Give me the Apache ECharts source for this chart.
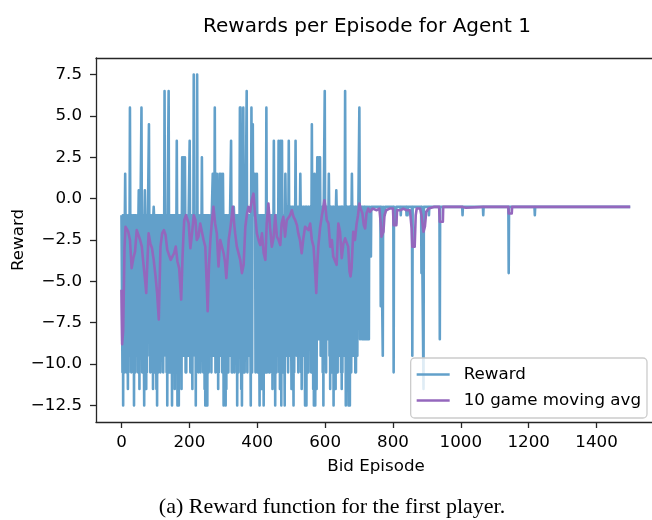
<!DOCTYPE html>
<html>
<head>
<meta charset="utf-8">
<script src="https://cdn.jsdelivr.net/npm/echarts@6/dist/echarts.min.js"></script>
<style>
  html, body { margin: 0; padding: 0; background: #fff; }
  #chart { width: 652px; height: 520px; }
</style>
</head>
<body>
<div id="chart"></div>
<script>
// Episodes 0..739: even episodes sit on the baseline, odd ones take these values
const denseRewards = [
  -1, -10.5, -12.5, -9.5, -10.5, 1.5, -9.5, -10.5, -1, -11.5,
  -10.5, -8.5, 5.5, -9.5, -10.5, -1, -7.5, -10.5, -12.5, -9.5,
  -10.5, -1, -9.5, -9.5, -10.5, 0.5, -11.5, -9.5, -1, 5.5,
  -10.5, -10.5, -1, -12.5, 0.5, -9.5, -11.5, -10.5, -8.5, -1,
  4.5, -9.5, -10.5, -1, -9.5, -10.5, -11.5, -0.5, -9.5, -10.5,
  -1, -11.5, -12.5, -10.5, -10.5, -9.5, -1, -10.5, -8.5, -9.5,
  -1, -10.5, -9.5, 6.5, -1, -9.5, -10.5, -12.5, -1, 6.5,
  -10.5, -10.5, -9.5, -8.5, -12.5, -1, -9.5, -10.5, -11.5, -1,
  -10.5, 3.5, -12.5, -9.5, -12.5, -1, -9.5, -10.5, -11.5, 2.5,
  -9.5, 2.5, -9.5, 2.5, -10.5, -10.5, -1, -8.5, -9.5, -1,
  3.5, -10.5, -10.5, -1, -11.5, -9.5, 7.5, -1, -9.5, -12.5,
  -10.5, 7.5, -9.5, -10.5, -1, -8.5, -10.5, -9.5, 2.5, -1,
  -10.5, -9.5, -11.5, -12.5, -12.5, -9.5, -12.5, -10.5, -10.5, -1,
  -9.5, -8.5, -10.5, -1, 1.5, -9.5, 1.5, 5.5, -10.5, -9.5,
  1.5, -10.5, -11.5, -10.5, 1.5, -9.5, 1.5, -9.5, -10.5, 1.5,
  -12.5, -9.5, -10.5, -12.5, -11.5, -1, -8.5, -10.5, -9.5, -9.5,
  -1, 3.5, -10.5, -10.5, -9.5, -0.5, -10.5, -9.5, -1, -8.5,
  -12.5, -10.5, -10.5, -9.5, 5.5, 5.5, -11.5, -12.5, -9.5, 5.5,
  -10.5, -10.5, -9.5, -1, 6.5, -10.5, -8.5, -9.5, -9.5, -1,
  -12.5, 5.5, -10.5, 4.5, 1.5, 0.5, 1.5, -10.5, -9.5, 1.5,
  -10.5, -9.5, -1, -12.5, -10.5, -9.5, -11.5, -10.5, -8.5, -12.5,
  -9.5, -9.5, -10.5, 5.5, -10.5, -1, -9.5, -10.5, -10.5, -1,
  -9.5, -10.5, -11.5, -9.5, 3.5, -10.5, -12.5, -1, -10.5, -9.5,
  -9.5, 3.5, -10.5, -11.5, 3.5, -12.5, 3.5, -9.5, -10.5, -1,
  -12.5, 1.5, -9.5, -9.5, -0.5, -10.5, 3.5, -9.5, -8.5, -0.5,
  -11.5, -9.5, -0.5, -12.5, -10.5, -9.5, 3.5, -7.5, -9.5, -0.5,
  -10.5, -8.5, -9.5, 1.5, -10.5, -11.5, -0.5, -6.5, -9.5, -0.5,
  -12.5, -9.5, -12.5, -0.5, -9.5, -10.5, -0.5, -7.5, -8.5, -10.5,
  4.5, -9.5, -11.5, -12.5, 1.5, -12.5, -10.5, -11.5, 2.5, 2.5,
  -8.5, 2.5, 2.5, -9.5, -0.5, -9.5, -10.5, -12.5, -0.5, 6.5,
  -9.5, -10.5, -0.5, -8.5, -8.5, 1.5, -9.5, -11.5, -9.5, -0.5,
  -10.5, -9.5, -12.5, -0.5, -9.5, -11.5, 0.5, -9.5, -10.5, -0.5,
  -9.5, -0.5, -7.5, -10.5, -11.5, -10.5, -0.5, -9.5, -8.5, 6.5,
  -12.5, -9.5, -10.5, -0.5, -12.5, -11.5, -12.5, -9.5, -10.5, 1.5,
  -9.5, -9.5, -0.5, -8.5, -10.5, -10.5, -0.5, -9.5, -7.5, -0.5,
  5.5, -8.5, -0.5, -6.5, -8.5, -0.5, -8.5, -8.5, -8.5, -0.5,
  -8.5, -0.5, -8.5, -0.5, -8.5, -0.5, -0.5, -3.5, -0.5, -0.5
];
// baseline reward: -1 early on, -0.5 from episode 484
const earlyBase = -1;
const lateBase = -0.5;
const baseSwitch = 484;

// After episode 740 the reward sits at -0.5 apart from these drops
const tailSpikes = [
  [764, -6.5], [770, -9.5], [776, -1], [802, -10.5], [809, -1.5],
  [823, -1], [840, -1], [843, -1], [857, -9.5], [884, -4.5],
  [890, -11.5], [906, -1], [938, -8.5], [1005, -1], [1066, -1],
  [1141, -4.5], [1218, -1]
];
const lastEpisode = 1499;

// 10 game moving average, [episode, value]
const movingAvg = [
  [0, -5.5], [2, -8.8], [5, -8.0], [9, -3.0], [12, -1.7], [15, -1.7], [20, -2.0], [25, -2.5],
  [30, -4.2], [35, -3.6], [40, -3.2], [45, -1.9], [50, -2.2], [55, -2.5], [60, -2.9], [65, -4.0],
  [70, -5.0], [73, -5.7], [75, -4.5], [80, -2.1], [85, -2.7], [90, -3.0], [95, -3.7], [100, -4.6],
  [105, -5.7], [110, -7.3], [115, -2.9], [120, -2.1], [125, -1.9], [130, -2.2], [135, -3.1], [140, -3.0],
  [145, -3.7], [150, -3.5], [155, -3.3], [160, -2.9], [165, -3.8], [170, -4.2], [176, -6.1], [180, -3.5],
  [183, -2.1], [185, -1.3], [190, -1.0], [195, -1.3], [198, -1.5], [203, -3.0], [208, -2.1], [213, -1.0],
  [218, -1.3], [222, -2.5], [227, -2.3], [232, -1.5], [237, -1.5], [242, -2.5], [247, -2.9], [251, -5.0],
  [254, -6.8], [258, -4.0], [262, -2.5], [266, -1.5], [271, -0.5], [276, -1.5], [281, -2.1], [286, -4.1],
  [291, -2.5], [296, -2.9], [301, -3.3], [305, -3.8], [309, -4.8], [313, -3.5], [316, -2.5], [322, -1.6],
  [328, -0.5], [332, -1.5], [335, -2.1], [340, -2.9], [345, -3.0], [350, -3.7], [355, -4.5], [360, -4.0],
  [365, -1.7], [370, -0.9], [374, -0.5], [379, -0.8], [384, -0.1], [389, 0.3], [394, -1.0], [399, -2.1],
  [404, -2.5], [409, -2.8], [414, -2.1], [419, -3.3], [424, -3.7], [428, -1.5], [433, -0.3], [438, -1.8],
  [443, -2.9], [448, -2.4], [453, -1.0], [458, -2.3], [463, -2.5], [468, -2.8], [472, -1.5], [477, -1.1],
  [482, -2.3], [487, -1.3], [492, -1.3], [497, -1.0], [502, -0.7], [507, -1.1], [512, -1.3], [517, -1.6],
  [521, -2.1], [526, -2.5], [531, -3.3], [536, -2.4], [541, -1.7], [546, -1.8], [551, -1.9], [556, -1.5],
  [561, -2.5], [566, -2.9], [571, -4.5], [574, -5.7], [577, -4.0], [580, -2.9], [585, -1.8], [590, -1.1],
  [595, -0.5], [598, -0.1], [601, -0.5], [605, -1.3], [610, -1.5], [615, -2.9], [620, -2.5], [624, -3.5],
  [629, -3.6], [634, -4.0], [639, -1.5], [644, -2.0], [649, -3.6], [654, -2.7], [659, -2.4], [664, -2.5],
  [668, -2.9], [672, -4.4], [675, -4.7], [678, -4.2], [683, -2.0], [688, -2.5], [693, -1.5], [697, -1.0],
  [701, -0.3], [705, -0.6], [710, -0.9], [714, -1.6], [718, -1.8], [722, -0.9], [727, -0.6], [732, -0.8],
  [740, -0.6], [752, -0.7], [760, -0.6], [764, -1.5], [766, -2.3], [772, -2.0], [775, -1.0], [780, -0.7],
  [790, -0.6], [800, -0.6], [802, -1.6], [810, -1.6], [812, -0.7], [823, -0.7], [830, -0.6], [840, -0.7],
  [850, -0.7], [855, -1.8], [857, -2.9], [864, -2.9], [867, -1.0], [870, -0.6], [880, -0.6], [884, -1.0],
  [890, -2.0], [894, -1.7], [898, -0.8], [905, -0.6], [920, -0.5], [936, -0.5], [938, -1.4], [947, -1.4],
  [948, -0.5], [1005, -0.5], [1006, -0.55], [1015, -0.55], [1016, -0.5], [1066, -0.5], [1067, -0.55],
  [1075, -0.5], [1140, -0.5], [1141, -0.9], [1150, -0.9], [1151, -0.5], [1218, -0.5], [1219, -0.55],
  [1227, -0.5], [1499, -0.5]
];

const xTicks = [0, 200, 400, 600, 800, 1000, 1200, 1400];
const yTicks = [-12.5, -10, -7.5, -5, -2.5, 0, 2.5, 5, 7.5];

const FONT = 'DejaVu Sans';
const INK = '#000';
const SPINE = '#262626';
const X_MIN = -75, X_MAX = 1575;

// Build the reward line: alternating baseline / recorded value, then the quiet tail
const rewardData = [];
denseRewards.forEach((v, i) => {
  const ep = i * 2;
  rewardData.push([ep, ep < baseSwitch ? earlyBase : lateBase], [ep + 1, v]);
});
rewardData.push([denseRewards.length * 2, lateBase]);
for (const [ep, v] of tailSpikes) {
  rewardData.push([ep - 1, lateBase], [ep, v], [ep + 1, lateBase]);
}
rewardData.push([lastEpisode, lateBase]);

const fmtY = v => v.toFixed(1).replace('-', '\u2212');

const tickStyle = { color: SPINE, width: 1.3 };
const labelStyle = { fontFamily: FONT, fontSize: 16.7, color: INK };

const chart = echarts.init(document.getElementById('chart'));
chart.setOption({
  animation: false,
  backgroundColor: '#fff',
  grid: { left: 96, top: 58, width: 560, height: 364, containLabel: false, outerBoundsMode: 'none' },
  xAxis: [
    {
      type: 'value', min: X_MIN, max: X_MAX,
      name: 'Bid Episode', nameLocation: 'middle', nameGap: 36,
      nameTextStyle: labelStyle,
      axisLine: { show: true, onZero: false, lineStyle: tickStyle },
      axisTick: { show: true, length: 6, lineStyle: tickStyle, customValues: xTicks },
      axisLabel: { ...labelStyle, customValues: xTicks, margin: 12, formatter: v => String(v) },
      splitLine: { show: false }
    },
    {
      // top spine
      type: 'value', position: 'top', min: X_MIN, max: X_MAX,
      axisLine: { show: true, onZero: false, lineStyle: tickStyle },
      axisTick: { show: false }, axisLabel: { show: false }, splitLine: { show: false }
    }
  ],
  yAxis: {
    type: 'value', min: -13.5, max: 8.5,
    name: 'Reward', nameLocation: 'middle', nameGap: 69, nameRotate: 90,
    nameMoveOverlap: false,
    nameTextStyle: labelStyle,
    axisLine: { show: true, onZero: false, lineStyle: tickStyle },
    axisTick: { show: true, length: 6, lineStyle: tickStyle, customValues: yTicks },
    axisLabel: { ...labelStyle, customValues: yTicks, margin: 14, formatter: fmtY },
    splitLine: { show: false }
  },
  legend: {
    orient: 'vertical', right: 5, bottom: 102,
    icon: 'rect', itemWidth: 33, itemHeight: 2.5, itemGap: 9,
    padding: [8, 6, 9, 6],
    backgroundColor: 'rgba(255,255,255,0.8)',
    borderColor: '#cccccc', borderWidth: 1.3, borderRadius: 4,
    textStyle: { ...labelStyle, padding: [0, 0, 0, 9] },
    data: ['Reward', '10 game moving avg']
  },
  graphic: [
    {
      type: 'text', x: 367, y: 27,
      style: { text: 'Rewards per Episode for Agent 1', font: '20px "DejaVu Sans"', fill: INK, align: 'center', verticalAlign: 'middle' }
    },
    {
      type: 'text', x: 332, y: 507,
      style: { text: '(a) Reward function for the first player.', font: '22px "Liberation Serif"', fill: INK, align: 'center', verticalAlign: 'middle' }
    }
  ],
  series: [
    {
      name: 'Reward', type: 'line', data: rewardData,
      symbol: 'none', color: '#62a0ca',
      lineStyle: { color: '#62a0ca', width: 2.6, join: 'round' }
    },
    {
      name: '10 game moving avg', type: 'line', data: movingAvg,
      symbol: 'none', color: '#9467bd',
      lineStyle: { color: '#9467bd', width: 2.6, join: 'round' }
    }
  ]
});
</script>
</body>
</html>
